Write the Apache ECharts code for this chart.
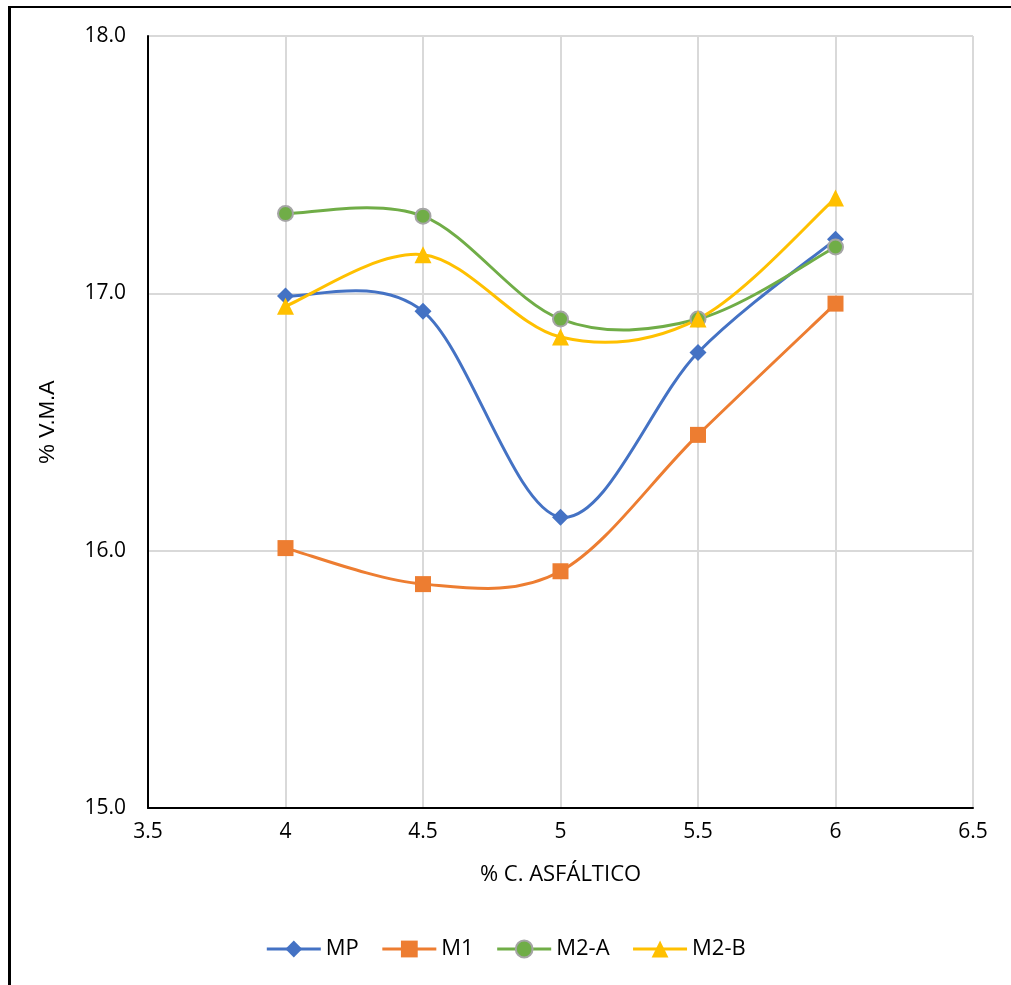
<!DOCTYPE html>
<html>
<head>
<meta charset="utf-8">
<script src="https://cdn.jsdelivr.net/npm/echarts@6/dist/echarts.min.js"></script>
<style>
  html, body { margin: 0; padding: 0; background: #fff; }
  #frame { position: absolute; left: 8px; top: 6px; width: 1100px; height: 1100px; border-left: 3px solid #000; border-top: 2px solid #000; }
  #chart { position: absolute; left: 0; top: 0; width: 1011px; height: 985px; }
</style>
</head>
<body>
<div id="frame"></div>
<div id="chart"></div>
<script>
const asphalt = [4, 4.5, 5, 5.5, 6];
const mp = [16.99, 16.93, 16.13, 16.77, 17.21];
const m1 = [16.01, 15.87, 15.92, 16.45, 16.96];
const m2a = [17.31, 17.30, 16.90, 16.90, 17.18];
const m2b = [16.95, 17.15, 16.83, 16.90, 17.37];

const pairs = (ys) => asphalt.map((x, i) => [x, ys[i]]);
const font = '"Open Sans", "Liberation Sans", sans-serif';

const chart = echarts.init(document.getElementById('chart'));

// excel-like smoothing (catmull-rom, tension 1/6), in pixel space
function curve(name, data, color) {
  return {
    name: name + '-curve',
    type: 'custom',
    data: pairs(data),
    silent: true,
    renderItem: function (params, api) {
      if (params.dataIndex !== 0) return null;
      const p = pairs(data).map(d => api.coord(d));
      let path = 'M' + p[0][0] + ' ' + p[0][1];
      for (let i = 0; i < p.length - 1; i++) {
        const p0 = p[Math.max(i - 1, 0)], p1 = p[i], p2 = p[i + 1], p3 = p[Math.min(i + 2, p.length - 1)];
        const c1 = [p1[0] + (p2[0] - p0[0]) / 6, p1[1] + (p2[1] - p0[1]) / 6];
        const c2 = [p2[0] - (p3[0] - p1[0]) / 6, p2[1] - (p3[1] - p1[1]) / 6];
        path += ' C' + c1.join(' ') + ' ' + c2.join(' ') + ' ' + p2.join(' ');
      }
      return {
        type: 'path',
        shape: { pathData: path },
        style: { fill: null, stroke: color, lineWidth: 3 }
      };
    }
  };
}

function marks(name, data, color, symbol, size, extra) {
  return {
    name: name,
    type: 'line',
    data: pairs(data),
    symbol: symbol,
    symbolSize: size,
    lineStyle: { color: color, width: 3, opacity: 0 },
    itemStyle: Object.assign({ color: color, opacity: 1 }, extra || {})
  };
}

const legendItem = (name, color) => ({ name: name, lineStyle: { color: color, width: 3, opacity: 1 } });

chart.setOption({
  animation: false,
  textStyle: { fontFamily: font },
  grid: { left: 148, top: 36, right: 38, bottom: 177, containLabel: false },
  legend: {
    bottom: 20,
    left: 'center',
    itemWidth: 54,
    itemHeight: 21,
    itemGap: 22,
    textStyle: { fontSize: 22, color: '#000', fontFamily: font },
    data: [
      legendItem('MP', '#4472C4'),
      legendItem('M1', '#ED7D31'),
      legendItem('M2-A', '#70AD47'),
      legendItem('M2-B', '#FFC000')
    ]
  },
  xAxis: {
    type: 'value',
    min: 3.5, max: 6.5, interval: 0.5,
    name: '% C. ASFÁLTICO',
    nameLocation: 'middle',
    nameGap: 56,
    nameTextStyle: { fontSize: 22, color: '#000', fontFamily: font },
    axisLine: { lineStyle: { color: '#000', width: 2 } },
    axisTick: { show: false },
    axisLabel: { fontSize: 21, color: '#000', margin: 14, fontFamily: font },
    splitLine: { show: true, lineStyle: { color: '#d9d9d9', width: 2 } }
  },
  yAxis: {
    type: 'value',
    min: 15, max: 18, interval: 1,
    name: '% V.M.A',
    nameLocation: 'middle',
    nameGap: 89,
    nameTextStyle: { fontSize: 22, color: '#000', fontFamily: '"Liberation Sans", Arial, sans-serif' },
    axisLine: { show: true, lineStyle: { color: '#000', width: 2 } },
    axisTick: { show: false },
    axisLabel: { fontSize: 21, color: '#000', margin: 22, fontFamily: font, formatter: v => v.toFixed(1) },
    splitLine: { show: true, lineStyle: { color: '#d9d9d9', width: 2 } }
  },
  series: [
    curve('MP', mp, '#4472C4'),
    marks('MP', mp, '#4472C4', 'diamond', 17),
    curve('M1', m1, '#ED7D31'),
    marks('M1', m1, '#ED7D31', 'rect', 16),
    curve('M2-A', m2a, '#70AD47'),
    marks('M2-A', m2a, '#70AD47', 'circle', 15, { borderColor: '#A5A5A5', borderWidth: 2 }),
    curve('M2-B', m2b, '#FFC000'),
    marks('M2-B', m2b, '#FFC000', 'triangle', 17)
  ]
});
</script>
</body>
</html>
